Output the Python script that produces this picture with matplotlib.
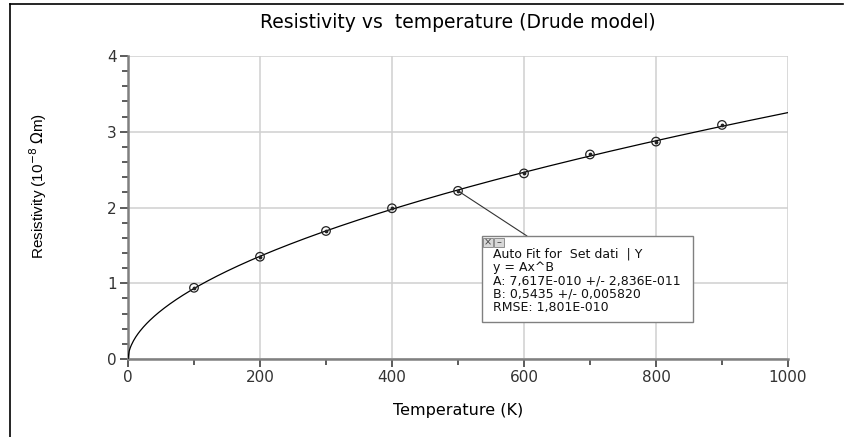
import numpy as np
import matplotlib.pyplot as plt
from matplotlib.patches import Rectangle
from matplotlib.lines import Line2D

plt.rcParams['font.family'] = ['DejaVu Sans']

# measured points (T in K, resistivity in 1e-8 Ohm m)
temp = [100, 200, 300, 400, 500, 600, 700, 800, 900]
rho = [0.94, 1.35, 1.69, 1.99, 2.22, 2.45, 2.70, 2.87, 3.09]

# auto fit y = A x^B (A in Ohm m)
fit_A = 7.617e-10
fit_B = 0.5435
fit_lines = ['Auto Fit for  Set dati  | Y',
             'y = Ax^B',
             'A: 7,617E-010 +/- 2,836E-011',
             'B: 0,5435 +/- 0,005820',
             'RMSE: 1,801E-010']

W, H = 846, 437
fig = plt.figure(figsize=(W / 100, H / 100), dpi=100)
ax = fig.add_axes([128 / W, 1 - 359 / H, (788 - 128) / W, (359 - 56) / H])

tt = np.linspace(0, 1000, 600)
ax.plot(tt, fit_A * 1e8 * tt ** fit_B, color='black', lw=0.9, zorder=3)
ax.scatter(temp, rho, s=38, facecolors='none', edgecolors='#222222', lw=0.9, zorder=4)
ax.scatter(temp, rho, s=3, color='#222222', zorder=5)

ax.set_xlim(0, 1000)
ax.set_ylim(0, 4)
ax.set_xticks([0, 200, 400, 600, 800, 1000])
ax.set_xticks([100, 300, 500, 700, 900], minor=True)
ax.set_yticks([0, 1, 2, 3, 4])
ax.set_yticks(np.arange(0, 4.01, 0.2), minor=True)
ax.grid(True, which='major', color='#d0d0d0', lw=1.1, zorder=0)
ax.set_axisbelow(True)
for s in ['top', 'right']:
    ax.spines[s].set_visible(False)
for s in ['left', 'bottom']:
    ax.spines[s].set_color('#808080')
    ax.spines[s].set_linewidth(1.8)
ax.tick_params(which='major', length=6, width=1.2, color='#404040', labelsize=11,
               labelcolor='#333333', pad=2)
ax.tick_params(which='minor', length=4, width=1.2, color='#404040')
ax.set_xlabel('Temperature (K)', fontsize=11.5, labelpad=13)
ax.set_ylabel(r'Resistivity (10$^{-8}$ $\Omega$m)', fontsize=11, family='Liberation Sans')
ax.yaxis.set_label_coords(-0.12, 0.57)
fig.text(458 / W, 1 - 23 / H, 'Resistivity vs  temperature (Drude model)',
         ha='center', va='center', fontsize=13.5)

# figure border (top and left)
fig.add_artist(Line2D([10 / W, 10 / W], [0, 1 - 4 / H], transform=fig.transFigure,
                      color='black', lw=1.2))
fig.add_artist(Line2D([10 / W, 843 / W], [1 - 4 / H, 1 - 4 / H], transform=fig.transFigure,
                      color='black', lw=1.2))

# annotation box
bx0, by0, bx1, by1 = 482, 236, 693, 322
ax.annotate('', xy=(500, rho[4]), xytext=(527 / W, 1 - by0 / H),
            textcoords='figure fraction',
            arrowprops=dict(arrowstyle='-', lw=0.8, color='#333333',
                            shrinkA=0, shrinkB=0), zorder=6)
fig.add_artist(Rectangle((bx0 / W, 1 - by1 / H), (bx1 - bx0) / W, (by1 - by0) / H,
                         transform=fig.transFigure, facecolor='white',
                         edgecolor='#808080', lw=1.0, zorder=7))
for i, sym in enumerate(['×', '–']):
    x0 = 483 + i * 11
    fig.add_artist(Rectangle((x0 / W, 1 - 247 / H), 10 / W, 9 / H,
                             transform=fig.transFigure, facecolor='#d8d8d8',
                             edgecolor='#808080', lw=0.6, zorder=8))
    fig.text((x0 + 5) / W, 1 - 242.5 / H, sym, ha='center', va='center',
             fontsize=7, color='#444444', zorder=9)
for i, line in enumerate(fit_lines):
    fig.text(493 / W, 1 - (254 + i * 13.3) / H, line, ha='left', va='center',
             fontsize=9, color='#111111', zorder=9)

fig.savefig('out.png', dpi=100)
